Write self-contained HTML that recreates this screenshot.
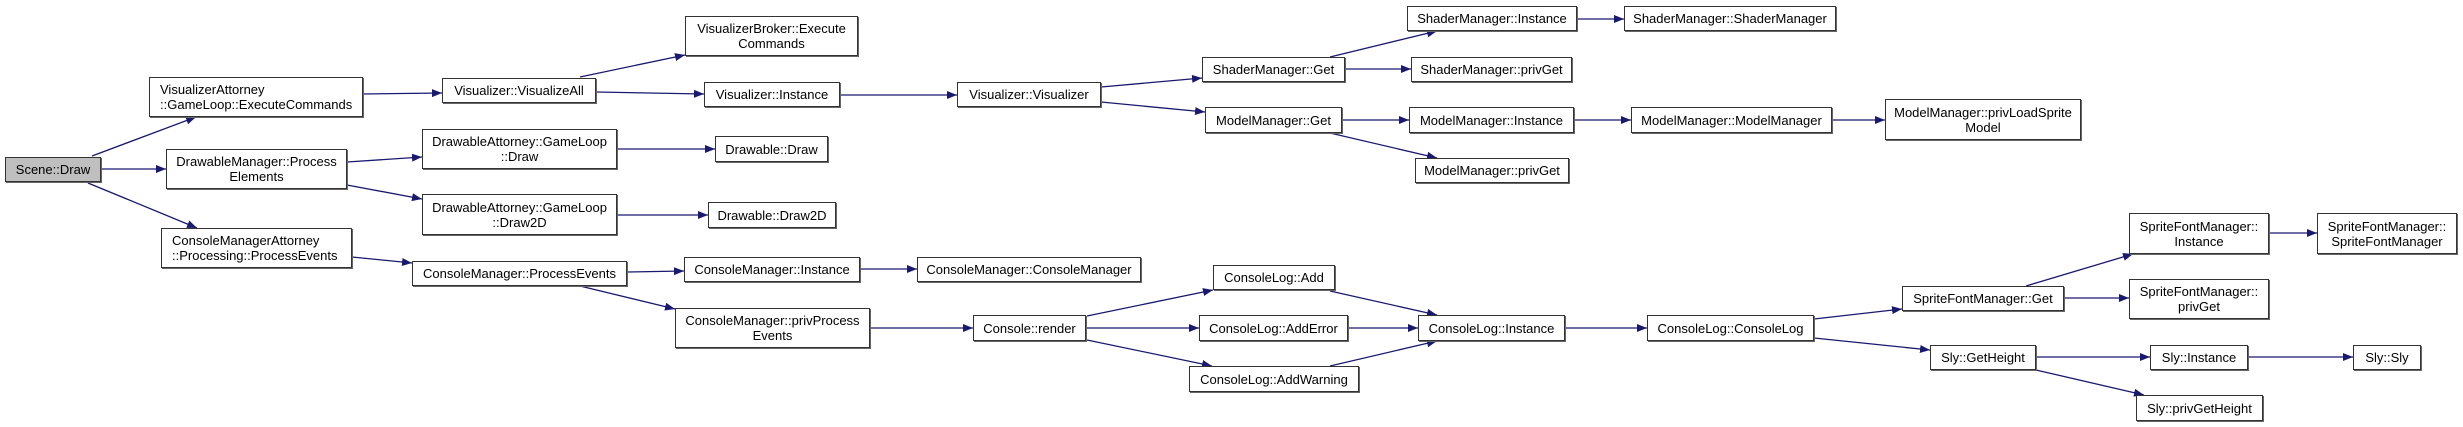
<!DOCTYPE html>
<html><head><meta charset="utf-8"><style>
html,body{margin:0;padding:0;background:#fff;}
body{width:2463px;height:427px;position:relative;overflow:hidden;font-family:"Liberation Sans",Arial,sans-serif;}
.n{position:absolute;box-sizing:border-box;border:1px solid #333;background:#fff;font-size:13px;line-height:15px;color:#000;display:flex;align-items:center;justify-content:center;text-align:center;white-space:nowrap;box-shadow:1px 1px 0 #666;}
.l{justify-content:flex-start;text-align:left;padding-left:10px;}
svg{position:absolute;left:0;top:0;}
</style></head><body>
<svg width="2463" height="427" viewBox="0 0 2463 427">
<defs><marker id="a" markerWidth="10" markerHeight="8" refX="10" refY="4" orient="auto" markerUnits="userSpaceOnUse"><path d="M0,0 L10,4 L0,8 z" fill="#191970"/></marker></defs>
<g stroke="#191970" stroke-width="1.3" fill="none" marker-end="url(#a)">
<line x1="92" y1="156" x2="196" y2="117"/>
<line x1="101" y1="169" x2="166" y2="169"/>
<line x1="88" y1="183" x2="197" y2="228"/>
<line x1="363" y1="94" x2="442" y2="93"/>
<line x1="580" y1="77" x2="685" y2="55"/>
<line x1="596" y1="92" x2="704" y2="94"/>
<line x1="347" y1="162" x2="422" y2="157"/>
<line x1="347" y1="185" x2="422" y2="199"/>
<line x1="617" y1="149" x2="715" y2="149"/>
<line x1="617" y1="215" x2="708" y2="215"/>
<line x1="352" y1="257" x2="412" y2="263"/>
<line x1="627" y1="272" x2="684" y2="271"/>
<line x1="580" y1="286" x2="675" y2="309"/>
<line x1="840" y1="95" x2="957" y2="95"/>
<line x1="1101" y1="87" x2="1202" y2="78"/>
<line x1="1101" y1="102" x2="1205" y2="112"/>
<line x1="1330" y1="57" x2="1437" y2="31"/>
<line x1="1345" y1="69" x2="1411" y2="69"/>
<line x1="1577" y1="19" x2="1624" y2="19"/>
<line x1="1342" y1="120" x2="1409" y2="120"/>
<line x1="1330" y1="133" x2="1437" y2="158"/>
<line x1="1574" y1="120" x2="1631" y2="120"/>
<line x1="1832" y1="120" x2="1885" y2="120"/>
<line x1="860" y1="269" x2="917" y2="269"/>
<line x1="870" y1="328" x2="973" y2="328"/>
<line x1="1087" y1="316" x2="1213" y2="290"/>
<line x1="1086" y1="328" x2="1199" y2="328"/>
<line x1="1087" y1="340" x2="1212" y2="366"/>
<line x1="1330" y1="291" x2="1437" y2="315"/>
<line x1="1348" y1="328" x2="1418" y2="328"/>
<line x1="1330" y1="366" x2="1437" y2="341"/>
<line x1="1565" y1="328" x2="1647" y2="328"/>
<line x1="1814" y1="319" x2="1902" y2="309"/>
<line x1="1814" y1="338" x2="1930" y2="350"/>
<line x1="2026" y1="286" x2="2133" y2="254"/>
<line x1="2064" y1="298" x2="2129" y2="298"/>
<line x1="2269" y1="233" x2="2317" y2="233"/>
<line x1="2036" y1="357" x2="2150" y2="357"/>
<line x1="2036" y1="370" x2="2144" y2="395"/>
<line x1="2248" y1="357" x2="2353" y2="357"/>
</g></svg>

<div class="n" style="left:5px;top:157px;width:96px;height:25px;background:#bfbfbf;">Scene::Draw</div>
<div class="n l" style="left:149px;top:77px;width:214px;height:40px;">VisualizerAttorney<br>::GameLoop::ExecuteCommands</div>
<div class="n" style="left:166px;top:149px;width:181px;height:40px;">DrawableManager::Process<br>Elements</div>
<div class="n l" style="left:161px;top:228px;width:191px;height:40px;">ConsoleManagerAttorney<br>::Processing::ProcessEvents</div>
<div class="n" style="left:442px;top:78px;width:154px;height:25px;">Visualizer::VisualizeAll</div>
<div class="n" style="left:685px;top:16px;width:173px;height:40px;">VisualizerBroker::Execute<br>Commands</div>
<div class="n" style="left:704px;top:82px;width:136px;height:25px;">Visualizer::Instance</div>
<div class="n" style="left:422px;top:129px;width:195px;height:40px;">DrawableAttorney::GameLoop<br>::Draw</div>
<div class="n" style="left:422px;top:194px;width:195px;height:41px;">DrawableAttorney::GameLoop<br>::Draw2D</div>
<div class="n" style="left:715px;top:136px;width:113px;height:26px;">Drawable::Draw</div>
<div class="n" style="left:708px;top:202px;width:128px;height:26px;">Drawable::Draw2D</div>
<div class="n" style="left:412px;top:261px;width:215px;height:25px;">ConsoleManager::ProcessEvents</div>
<div class="n" style="left:684px;top:257px;width:176px;height:25px;">ConsoleManager::Instance</div>
<div class="n" style="left:675px;top:308px;width:195px;height:40px;">ConsoleManager::privProcess<br>Events</div>
<div class="n" style="left:957px;top:82px;width:144px;height:25px;">Visualizer::Visualizer</div>
<div class="n" style="left:1202px;top:57px;width:143px;height:25px;">ShaderManager::Get</div>
<div class="n" style="left:1407px;top:6px;width:170px;height:25px;">ShaderManager::Instance</div>
<div class="n" style="left:1411px;top:57px;width:161px;height:25px;">ShaderManager::privGet</div>
<div class="n" style="left:1624px;top:6px;width:212px;height:25px;">ShaderManager::ShaderManager</div>
<div class="n" style="left:1205px;top:107px;width:137px;height:26px;">ModelManager::Get</div>
<div class="n" style="left:1409px;top:107px;width:165px;height:26px;">ModelManager::Instance</div>
<div class="n" style="left:1415px;top:158px;width:154px;height:25px;">ModelManager::privGet</div>
<div class="n" style="left:1631px;top:107px;width:201px;height:26px;">ModelManager::ModelManager</div>
<div class="n" style="left:1885px;top:99px;width:196px;height:41px;">ModelManager::privLoadSprite<br>Model</div>
<div class="n" style="left:917px;top:257px;width:224px;height:25px;">ConsoleManager::ConsoleManager</div>
<div class="n" style="left:973px;top:315px;width:113px;height:26px;">Console::render</div>
<div class="n" style="left:1213px;top:265px;width:122px;height:25px;">ConsoleLog::Add</div>
<div class="n" style="left:1199px;top:315px;width:149px;height:26px;">ConsoleLog::AddError</div>
<div class="n" style="left:1189px;top:366px;width:170px;height:26px;">ConsoleLog::AddWarning</div>
<div class="n" style="left:1418px;top:315px;width:147px;height:26px;">ConsoleLog::Instance</div>
<div class="n" style="left:1647px;top:315px;width:167px;height:26px;">ConsoleLog::ConsoleLog</div>
<div class="n" style="left:1902px;top:286px;width:162px;height:25px;">SpriteFontManager::Get</div>
<div class="n" style="left:2129px;top:213px;width:140px;height:41px;">SpriteFontManager::<br>Instance</div>
<div class="n" style="left:2317px;top:213px;width:140px;height:41px;">SpriteFontManager::<br>SpriteFontManager</div>
<div class="n" style="left:2129px;top:279px;width:140px;height:40px;">SpriteFontManager::<br>privGet</div>
<div class="n" style="left:1930px;top:345px;width:106px;height:25px;">Sly::GetHeight</div>
<div class="n" style="left:2150px;top:345px;width:98px;height:25px;">Sly::Instance</div>
<div class="n" style="left:2353px;top:345px;width:68px;height:25px;">Sly::Sly</div>
<div class="n" style="left:2136px;top:395px;width:127px;height:26px;">Sly::privGetHeight</div>
</body></html>
